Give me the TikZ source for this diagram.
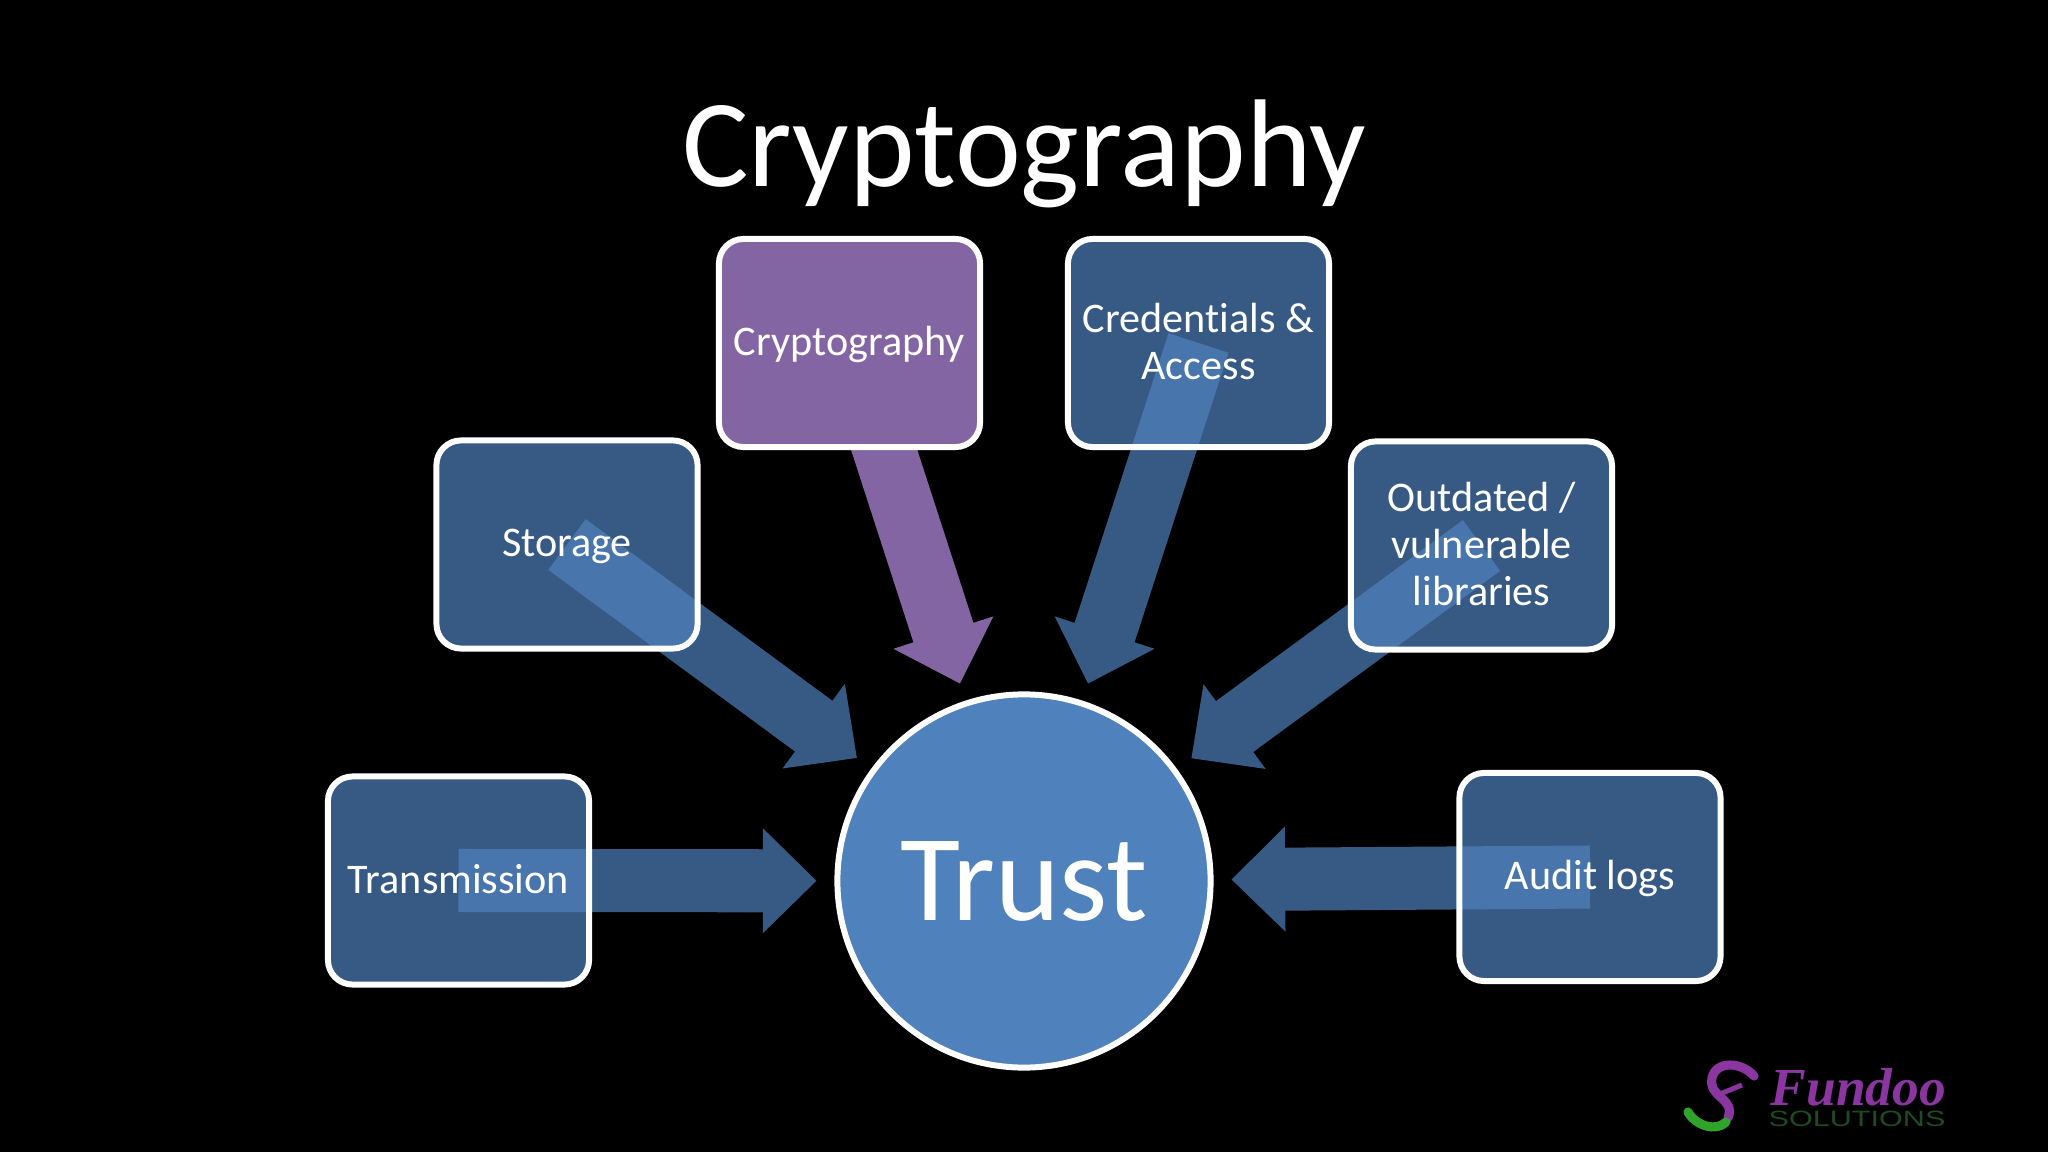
\documentclass[tikz,border=0pt]{standalone}
\usepackage{fontspec}
\setmainfont[Ligatures=CommonOff]{Carlito}
\newfontfamily\logoserif{Liberation Serif}
\newfontfamily\logosans{Liberation Sans}
\usepackage{tikz}
\usetikzlibrary{calc, backgrounds}
\pgfdeclarelayer{backdrop}
\pgfsetlayers{backdrop,background,main}
\definecolor{myblue}{HTML}{4F81BD}
\definecolor{mypurple}{HTML}{8465A3}
\definecolor{logopurple}{HTML}{8A35A0}
\definecolor{logogreen}{HTML}{2FA32A}
\definecolor{logodark}{HTML}{1F4A22}
\tikzset{
  blueflow/.style = {fill = myblue, fill opacity = 0.7},
  purpleflow/.style = {fill = mypurple},
  bluebox/.style = {draw = white, line width = 1.7pt, rounded corners = 7pt, fill = myblue, fill opacity = 0.7, text opacity = 1, text = white, align = center, inner sep = 0pt, minimum width = 2.61cm, minimum height = 2.08cm, text depth = 1pt, font = \fontsize{12}{13.3}\selectfont},
  purplebox/.style = {bluebox, fill = mypurple, fill opacity = 1}
}
\begin{document}
\begin{tikzpicture}[x = 0.01cm, y = -0.01cm]
\useasboundingbox (0,0) rectangle (2048,1152);
\begin{pgfonlayer}{backdrop}
\fill[black] (0,0) rectangle (2048,1152);
\end{pgfonlayer}
\node[anchor = base, text = white, font = \fontsize{35.5}{40}\selectfont] (title) at (1024,187) {Cryptography};
\node[circle, draw = white, line width = 1.7pt, fill = myblue, text = white, inner sep = 0pt, minimum size = 3.73cm, font = \fontsize{35}{40}\selectfont] (trust) at (1024,881) {Trust};
\foreach \name/\x/\y/\sty/\txt in {transmission/458.5/880.5/bluebox/Transmission, storage/567/544.5/bluebox/Storage, crypto/849.5/343/purplebox/Cryptography, credentials/1198.5/343/bluebox/{Credentials \&\\Access}, outdated/1481.5/545.5/bluebox/{Outdated /\\vulnerable\\libraries}, audit/1590/877/bluebox/Audit logs}{
\node[\sty] (\name) at (\x, \y) {\txt};
}
% block arrows run from the middle of each box to just short of the circle
\begin{scope}[on background layer]
\foreach \name/\sty in {transmission/blueflow, storage/blueflow, crypto/purpleflow, credentials/blueflow, outdated/blueflow, audit/blueflow}{
\coordinate (tip) at ($(trust)!2.075cm!(\name.center)$);
\coordinate (base) at ($(tip)!0.535cm!(\name.center)$);
\path[\sty] ($(\name.center)!0.315cm!90:(tip)$) -- ($(base)!0.315cm!90:(tip)$) -- ($(base)!0.525cm!90:(tip)$) -- (tip) -- ($(base)!0.525cm!-90:(tip)$) -- ($(base)!0.315cm!-90:(tip)$) -- ($(\name.center)!0.315cm!-90:(tip)$) -- cycle;
}
\end{scope}
% logo
\draw[logopurple, line width = 2.6pt, line cap = round] (1754,1076) .. controls (1742,1062) and (1716,1060) .. (1712,1078) .. controls (1708,1098) and (1736,1098) .. (1728,1118);
\draw[logopurple, line width = 1.4pt] (1742,1085) -- (1720,1094);
\draw[logogreen, line width = 2.6pt, line cap = round] (1726,1122) .. controls (1716,1132) and (1696,1126) .. (1688,1112);
\node[anchor = base west, inner sep = 0pt, text depth = 0pt, text = logopurple, font = \logoserif\bfseries\itshape\fontsize{15.2}{16}\selectfont] (fundoo) at (1770,1105) {Fundoo};
\node[anchor = base west, inner sep = 0pt, text = logodark, font = \logosans\fontsize{6.3}{7}\selectfont] (solutions) at (1768,1126) {\scalebox{1.38}[1]{SOLUTIONS}};
\end{tikzpicture}
\end{document}
